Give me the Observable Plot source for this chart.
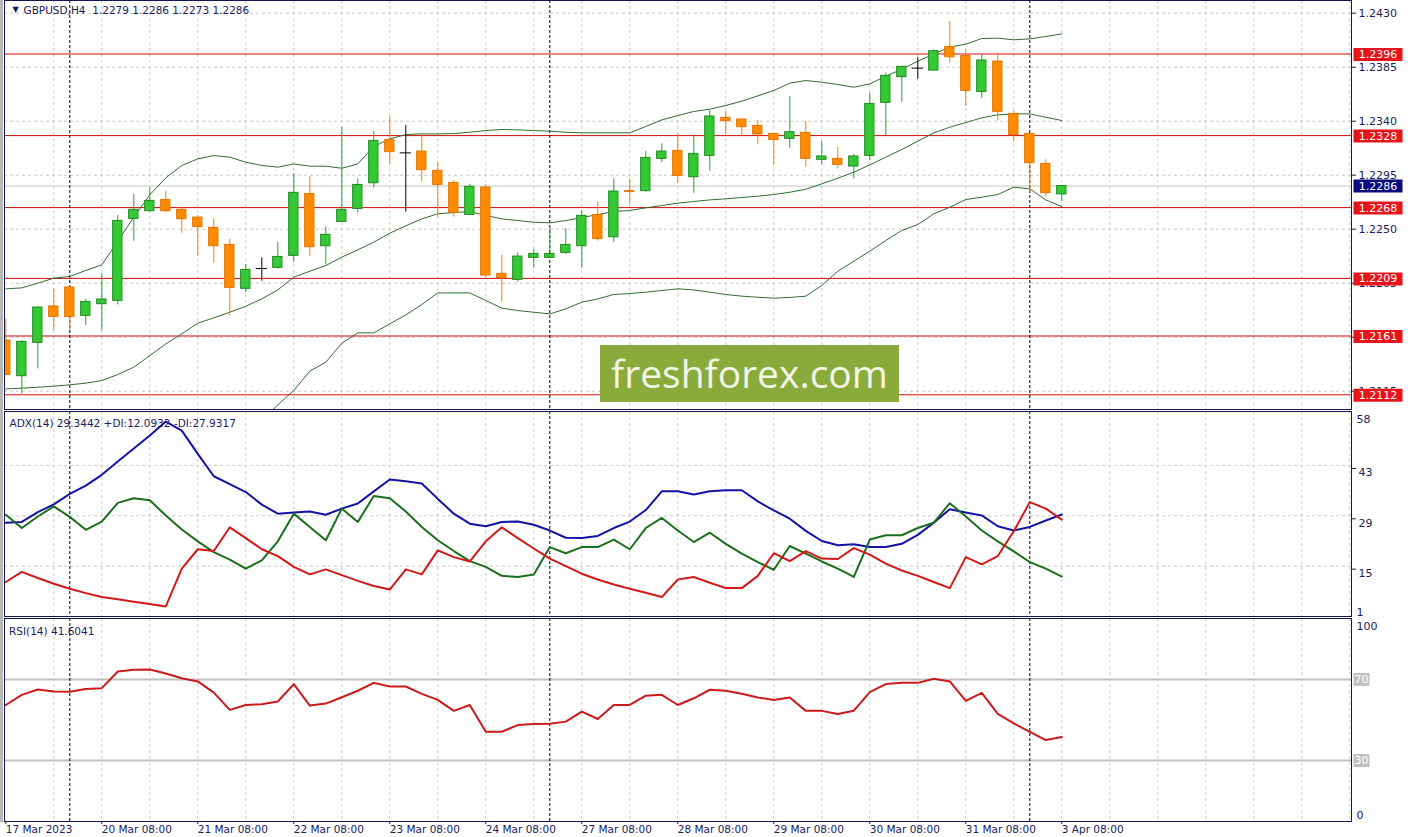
<!DOCTYPE html>
<html><head><meta charset="utf-8">
<script src="https://cdn.jsdelivr.net/npm/d3@7"></script>
<script src="https://cdn.jsdelivr.net/npm/@observablehq/plot@0.6"></script>
<style>
html,body{margin:0;padding:0;background:#fff;}
#chart{position:relative;width:1410px;height:837px;overflow:hidden;background:#fff;}
#chart > svg{position:absolute;left:0;}
#edge{position:absolute;left:0;top:0;width:3px;height:822px;background:#b8b8b8;}
#wm{position:absolute;left:600px;top:345px;width:299px;height:57px;background:#8aab3b;color:#f2f6e6;font-family:"Open Sans",sans-serif;font-size:39px;line-height:55px;text-align:center;}
</style></head><body>
<div id="chart"></div>
<script>
// ---------- data ----------
const symbolTitle = "GBPUSD,H4  1.2279 1.2286 1.2273 1.2286";
const adxTitle = "ADX(14) 29.3442 +DI:12.0932 -DI:27.9317";
const rsiTitle = "RSI(14) 41.6041";

const open = [1.21572,1.21275,1.21553,1.21856,1.22014,1.21778,1.21875,1.21903,1.22586,1.2265,
1.22744,1.22661,1.22597,1.22511,1.22369,1.22003,1.22172,1.22178,1.22278,1.22794,
1.22358,1.22561,1.22669,1.22883,1.23244,1.23136,1.23147,1.22986,1.22886,1.22619,
1.22847,1.22128,1.22078,1.22261,1.22261,1.22303,1.22358,1.22619,1.22433,1.22817,
1.22817,1.23086,1.23153,1.22933,1.23111,1.23428,1.23414,1.23361,1.23294,1.23253,
1.23303,1.23078,1.23086,1.23022,1.23111,1.23553,1.23767,1.23842,1.23822,1.24019,
1.23944,1.23644,1.23897,1.23461,1.23294,1.23044,1.2279];
const high = [1.21753,1.2157,1.21855,1.2200,1.2202,1.21914,1.22128,1.22614,1.22789,1.22844,
1.22814,1.22683,1.22614,1.22586,1.22414,1.22206,1.22261,1.22389,1.22964,1.22939,
1.22519,1.2335,1.22919,1.23314,1.23433,1.23364,1.2330,1.23056,1.22903,1.22875,
1.22872,1.22281,1.22303,1.22331,1.22517,1.22503,1.22656,1.22725,1.22919,1.22919,
1.23147,1.23211,1.23294,1.23286,1.23489,1.23481,1.23414,1.23406,1.23294,1.23606,
1.23397,1.23231,1.23181,1.23122,1.23633,1.2380,1.23858,1.23928,1.23994,1.24231,
1.23994,1.23953,1.23967,1.23481,1.23294,1.23078,1.2286];
const low = [1.21281,1.21128,1.21336,1.21656,1.21656,1.21697,1.21656,1.21869,1.2240,1.22644,
1.22639,1.22467,1.22272,1.22217,1.21778,1.21972,1.22067,1.22167,1.22225,1.22275,
1.22203,1.22561,1.22636,1.22842,1.23042,1.22642,1.22897,1.2260,1.2260,1.22619,
1.2210,1.21892,1.22058,1.22175,1.22258,1.22289,1.22175,1.2240,1.22392,1.22708,
1.22808,1.23056,1.22883,1.2280,1.22983,1.23294,1.23278,1.23203,1.23036,1.23175,
1.23017,1.23036,1.23003,1.22919,1.23072,1.23281,1.23558,1.2375,1.23817,1.23886,
1.23522,1.23592,1.23403,1.23233,1.22803,1.22767,1.2273];
const close = [1.21286,1.21561,1.21847,1.21769,1.21769,1.21894,1.21914,1.22569,1.22661,1.22736,
1.2265,1.22583,1.22517,1.22358,1.22011,1.22161,1.22172,1.22269,1.22803,1.2235,
1.22453,1.22661,1.22869,1.23236,1.23142,1.23136,1.22992,1.22869,1.22636,1.22853,
1.22114,1.22094,1.22272,1.22294,1.22294,1.22369,1.22611,1.22417,1.22814,1.22811,
1.23094,1.23147,1.22944,1.23128,1.23439,1.2340,1.2335,1.23289,1.23244,1.23308,
1.23086,1.23106,1.23036,1.23106,1.23544,1.23778,1.23853,1.23842,1.23983,1.23933,
1.23653,1.23906,1.23478,1.23286,1.2305,1.2280,1.2286];

const bbUpper = [1.22003,1.22011,1.2205,1.22092,1.22106,1.22156,1.22203,1.2240,1.2260,1.22786,
1.22928,1.23031,1.23086,1.23114,1.2310,1.23058,1.23031,1.23017,1.23044,1.23025,
1.23025,1.23008,1.23044,1.23189,1.23253,1.23289,1.23294,1.23294,1.23297,1.23308,
1.23322,1.23331,1.23328,1.23322,1.23317,1.23308,1.23303,1.23303,1.23303,1.23303,
1.23356,1.23411,1.23447,1.23481,1.2350,1.23531,1.23567,1.23611,1.23656,1.23717,
1.23739,1.23725,1.23706,1.23683,1.23711,1.23775,1.23833,1.2390,1.23961,1.24017,
1.24042,1.24089,1.24092,1.24078,1.24086,1.24106,1.24128];
const bbMiddle = [1.21169,1.21175,1.21183,1.21192,1.21203,1.21217,1.21239,1.21289,1.2135,1.21447,
1.21544,1.21628,1.21717,1.21761,1.21808,1.21858,1.21919,1.21994,1.2210,1.2215,
1.22197,1.22267,1.22328,1.22392,1.22467,1.22528,1.22586,1.22628,1.22639,1.22647,
1.22614,1.22586,1.22572,1.22558,1.22553,1.22572,1.22597,1.22622,1.22647,1.22656,
1.22678,1.22697,1.22717,1.22731,1.22744,1.22753,1.22764,1.22775,1.22789,1.22808,
1.22833,1.22878,1.22925,1.22975,1.23036,1.2310,1.23164,1.23233,1.23303,1.2335,
1.23389,1.23428,1.23453,1.23461,1.23461,1.23433,1.23406];
const bbLower = [null,null,null,null,null,null,null,null,null,null,null,null,null,null,null,null,
1.20906,1.21036,1.21156,1.21317,
1.21392,1.2155,1.21636,1.21636,1.21711,1.21786,1.21872,1.21969,1.21969,1.21969,
1.21906,1.21842,1.21822,1.21808,1.21794,1.21836,1.21892,1.21919,1.21956,1.21964,
1.21975,1.21989,1.22003,1.21994,1.21975,1.21956,1.21942,1.21933,1.21925,1.21931,
1.21942,1.22031,1.2215,1.22233,1.22317,1.22406,1.22489,1.22539,1.22628,1.22683,
1.22747,1.22767,1.22789,1.2285,1.22836,1.22744,1.22689];

const adx = [27.1,27.3,30.0,32.2,35.1,37.4,40.4,44.1,47.7,51.3,
55.2,52.7,46.2,40.0,37.8,35.6,32.1,29.6,29.9,30.2,
29.3,31.0,32.4,35.8,39.1,38.6,38.0,33.7,29.6,26.8,
26.1,27.3,27.4,26.5,24.9,22.9,22.8,23.4,25.6,27.4,
30.6,35.8,35.8,34.9,35.8,36.1,36.1,33.0,30.5,28.2,
24.8,22.0,20.8,21.1,20.3,20.3,21.2,23.7,27.1,30.8,
29.9,29.1,26.1,24.9,25.9,27.7,29.3442];
const plusDI = [29.3,25.6,28.8,31.6,28.7,25.1,27.4,32.6,33.9,33.3,
29.1,25.2,21.9,18.9,16.8,14.3,16.6,21.9,29.6,25.9,
22.2,31.0,27.3,34.5,33.9,30.2,25.9,22.2,19.2,16.4,
14.8,12.3,12.0,12.7,20.3,18.6,20.3,20.3,22.4,19.7,
25.6,28.4,24.9,21.7,24.3,21.2,18.5,16.1,14.0,20.6,
18.5,16.3,14.3,12.0,22.4,23.6,23.6,25.6,27.1,32.5,
28.8,24.9,21.9,19.1,16.1,14.3,12.0932];
const minusDI = [10.6,13.4,11.7,10.1,8.7,7.5,6.4,5.8,5.1,4.5,
3.8,14.3,19.7,19.2,25.8,22.8,19.7,17.8,14.8,12.7,
14.1,12.5,10.9,9.5,8.5,14.1,12.7,19.4,17.5,16.3,
21.9,25.8,22.8,19.9,17.1,15.0,12.9,11.3,9.9,8.7,
7.6,6.4,11.3,12.0,10.4,8.9,8.9,12.3,18.6,16.4,
19.2,17.1,17.0,20.0,18.2,15.7,13.8,12.3,10.6,8.9,
17.5,15.5,17.8,24.7,32.8,31.0,27.9317];
const rsi = [57.4,62.4,65.0,64.0,63.9,65.3,65.7,73.9,74.8,74.9,
72.9,70.6,69.0,63.5,55.0,57.4,57.8,59.1,67.7,57.1,
58.1,61.2,64.4,68.3,66.5,66.5,62.9,59.9,54.5,57.4,
44.2,44.2,47.5,48.0,48.2,49.2,54.1,50.5,57.4,57.4,
62.0,62.4,57.4,60.7,64.9,64.4,62.9,61.1,59.9,61.1,
54.5,54.5,53.0,54.6,63.7,67.7,68.3,68.3,70.3,69.0,
59.4,63.4,53.0,48.3,44.2,40.1,41.6041];

const levels = [1.2396, 1.2328, 1.2268, 1.2209, 1.2161, 1.2112];
const lastPrice = 1.2286;
const priceTicks = [1.2430, 1.2385, 1.2340, 1.2295, 1.2250, 1.2205, 1.2160, 1.2115];
const adxTicks = [43, 29, 15];
const rsiLevels = [70, 30];
const separatorBars = [4, 34, 64];
const dateBars = [0, 6, 12, 18, 24, 30, 36, 42, 48, 54, 60, 66];
const dateLabels = ["17 Mar 2023","20 Mar 08:00","21 Mar 08:00","22 Mar 08:00","23 Mar 08:00","24 Mar 08:00",
  "27 Mar 08:00","28 Mar 08:00","29 Mar 08:00","30 Mar 08:00","31 Mar 08:00","3 Apr 08:00"];

// ---------- layout ----------
const W = 1410, ML = 4, MR = 59;
const xDomain = [-0.08125, 84.10625];           // bar index across the pane width
const gridBars = d3.range(3, 85, 3);            // 12-hour grid
const navy = "#1c1c5c", frameColor = "#16164e";
const gridStyle = {stroke: "#c8c8c8", strokeDasharray: "3,3"};
const sepStyle = {stroke: "#000", strokeDasharray: "3,2"};
const baseStyle = {background: "white", fontFamily: "DejaVu Sans, sans-serif", fontSize: "10.5px", color: navy, maxWidth: "none"};
const box = (w, h) => ({draw(ctx) { ctx.rect(-w / 2, -h / 2, w, h); }});

const candles = open.map((o, i) => ({i, open: o, high: high[i], low: low[i], close: close[i]}));
const isDoji = d => d.open === d.close;
const isUp = d => d.close > d.open;
const wickColor = d => isDoji(d) ? "#000" : isUp(d) ? "#26a626" : "#ee8206";
const bodyFill = d => isUp(d) ? "#36c936" : "#ff8c00";
const bodyStroke = d => isUp(d) ? "#1f8a1f" : "#e07400";
const idx = d3.range(open.length);

// ---------- price pane ----------
const p1 = Plot.plot({
  width: W, height: 410, marginLeft: ML, marginRight: MR, marginTop: 0, marginBottom: 1,
  x: {domain: xDomain, axis: null},
  y: {domain: [1.209975, 1.244058], axis: null},
  style: baseStyle,
  marks: [
    Plot.ruleX(gridBars, gridStyle),
    Plot.ruleY(priceTicks, gridStyle),
    Plot.ruleY([lastPrice], {stroke: "#c4c4c4"}),
    Plot.ruleY(levels, {stroke: "#d20a0a"}),
    Plot.ruleX(separatorBars, sepStyle),
    Plot.line(idx, {x: i => i, y: i => bbUpper[i], stroke: "#2f6f2f", strokeWidth: 1, clip: true}),
    Plot.line(idx, {x: i => i, y: i => bbMiddle[i], stroke: "#2f6f2f", strokeWidth: 1, clip: true}),
    Plot.line(idx, {x: i => i, y: i => bbLower[i], stroke: "#2f6f2f", strokeWidth: 1, clip: true}),
    Plot.ruleX(candles, {x: "i", y1: "low", y2: "high", stroke: wickColor, clip: true}),
    Plot.rect(candles.filter(d => !isDoji(d)), {x1: d => d.i - 0.29, x2: d => d.i + 0.29, y1: "open", y2: "close", fill: bodyFill, stroke: bodyStroke, clip: true}),
    Plot.ruleY(candles.filter(isDoji), {y: "open", x1: d => d.i - 0.35, x2: d => d.i + 0.35, stroke: "#000"}),
    Plot.text(["▼"], {frameAnchor: "top-left", dx: 8, dy: 6, fontSize: 8, fill: "#101070"}),
    Plot.text([symbolTitle], {frameAnchor: "top-left", dx: 19, dy: 6, textAnchor: "start", fill: navy, fontSize: 10.5}),
    Plot.frame({stroke: frameColor}),
    Plot.axisY(priceTicks, {anchor: "right", tickSize: 4, tickPadding: 3, tickFormat: d => d.toFixed(4), fontSize: 11, color: navy}),
    Plot.dot(levels, {y: d => d, frameAnchor: "right", dx: 26.5, dy: 0.5, symbol: box(49, 13), fill: "#e8141c"}),
    Plot.text(levels, {y: d => d, frameAnchor: "right", textAnchor: "middle", dx: 26.5, dy: 0.5, text: d => d.toFixed(4), fill: "#fff", fontSize: 11}),
    Plot.dot([lastPrice], {y: d => d, frameAnchor: "right", dx: 26.5, symbol: box(49, 13), fill: "#0b0b80"}),
    Plot.text([lastPrice], {y: d => d, frameAnchor: "right", textAnchor: "middle", dx: 26.5, text: d => d.toFixed(4), fill: "#fff", fontSize: 11})
  ]
});

// ---------- ADX pane ----------
const p2 = Plot.plot({
  width: W, height: 208, marginLeft: ML, marginRight: MR, marginTop: 1, marginBottom: 2,
  x: {domain: xDomain, axis: null},
  y: {domain: [1, 58], axis: null},
  style: baseStyle,
  marks: [
    Plot.ruleX(gridBars, gridStyle),
    Plot.ruleY(adxTicks, gridStyle),
    Plot.ruleX(separatorBars, sepStyle),
    Plot.line(idx, {x: i => i, y: i => adx[i], stroke: "#1212a6", strokeWidth: 2}),
    Plot.line(idx, {x: i => i, y: i => plusDI[i], stroke: "#1b6e1b", strokeWidth: 2}),
    Plot.line(idx, {x: i => i, y: i => minusDI[i], stroke: "#d41818", strokeWidth: 2}),
    Plot.text([adxTitle], {frameAnchor: "top-left", dx: 5, dy: 8, textAnchor: "start", fill: navy, fontSize: 10.5}),
    Plot.frame({stroke: frameColor}),
    Plot.axisY(adxTicks, {anchor: "right", tickSize: 4, tickPadding: 3, lineAnchor: "top", dy: 3, fontSize: 11, color: navy}),
    Plot.axisY([58], {anchor: "right", tickSize: 0, tickPadding: 5, lineAnchor: "top", dy: 4, fontSize: 11, color: navy}),
    Plot.axisY([1], {anchor: "right", tickSize: 0, tickPadding: 5, lineAnchor: "bottom", dy: -1, fontSize: 11, color: navy})
  ]
});

// ---------- RSI pane ----------
const p3 = Plot.plot({
  width: W, height: 220, marginLeft: ML, marginRight: MR, marginTop: 1, marginBottom: 16,
  x: {domain: xDomain, axis: null},
  y: {domain: [0, 100], axis: null},
  style: baseStyle,
  marks: [
    Plot.ruleX(gridBars, gridStyle),
    Plot.ruleY(rsiLevels, {stroke: "#c0c0c0", strokeWidth: 2}),
    Plot.ruleX(separatorBars, sepStyle),
    Plot.line(idx, {x: i => i, y: i => rsi[i], stroke: "#cc1a1a", strokeWidth: 2}),
    Plot.text([rsiTitle], {frameAnchor: "top-left", dx: 4.5, dy: 9.5, textAnchor: "start", fill: navy, fontSize: 10.5}),
    Plot.frame({stroke: frameColor}),
    Plot.axisY([100], {anchor: "right", tickSize: 0, tickPadding: 5, lineAnchor: "top", dy: 4, fontSize: 11, color: navy}),
    Plot.axisY([0], {anchor: "right", tickSize: 0, tickPadding: 5, lineAnchor: "bottom", dy: -3, fontSize: 11, color: navy}),
    Plot.dot(rsiLevels, {y: d => d, frameAnchor: "right", dx: 10, symbol: box(16, 13), fill: "#c0c0c0"}),
    Plot.text(rsiLevels, {y: d => d, frameAnchor: "right", textAnchor: "middle", dx: 10, text: d => String(d), fill: "#fff", fontSize: 11}),
    Plot.axisX(dateBars, {anchor: "bottom", tickSize: 3, tickPadding: 1, textAnchor: "start", tickFormat: d => dateLabels[dateBars.indexOf(d)], fontSize: 10.5, color: navy})
  ]
});

const chart = document.getElementById("chart");
[[p1, 0], [p2, 410], [p3, 617]].forEach(([svg, top]) => { svg.style.top = top + "px"; chart.appendChild(svg); });
const edge = document.createElement("div"); edge.id = "edge"; chart.appendChild(edge);
const wm = document.createElement("div"); wm.id = "wm"; wm.textContent = "freshforex.com"; chart.appendChild(wm);
</script>
</body></html>
